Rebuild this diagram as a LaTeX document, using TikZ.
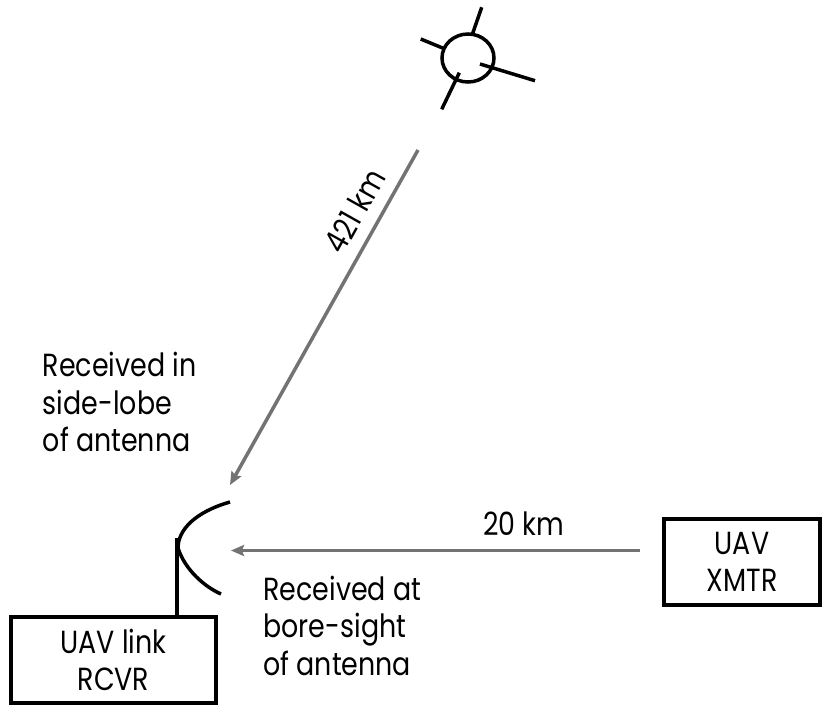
\documentclass[tikz,border=0pt]{standalone}
\usepackage{fontspec}
\setmainfont{Poppins}[FakeStretch=0.84]
\usetikzlibrary{
    arrows.meta,
    calc,
    positioning
}
\definecolor{linkgray}{RGB}{115,115,115}

\begin{document}
\begin{tikzpicture}[x=1pt, y=-1pt,
        txt/.style={font=\fontsize{32}{37.5}\selectfont, inner sep=0pt},
        note/.style={txt, align=left},
        unit/.style={txt, draw, line width=3.5pt, align=center, minimum height=86pt},
        wire/.style={line width=3.5pt},
        link/.style={draw=linkgray, line width=3.5pt, -{Stealth[length=13pt, width=11pt, inset=2pt]}}
    ]
    \useasboundingbox (0, 0) rectangle (829, 713);

    \coordinate (sat) at (468, 58);
    \draw[wire] (sat) ellipse [x radius=26, y radius=24];
    \draw[wire] ($(sat)+(4.7,-24.7)$) -- ($(sat)+(13.7,-50.7)$);
    \draw[wire] ($(sat)+(-47.3,-19)$) -- ($(sat)+(-24.7,-9.7)$);
    \draw[wire] ($(sat)+(12,6)$) -- ($(sat)+(67,22.7)$);
    \draw[wire] ($(sat)+(-8.7,14.7)$) -- ($(sat)+(-26.3,51.3)$);

    \node[unit, minimum width=205pt] (rcvr) at (113.5, 660) {UAV link\\RCVR};
    \node[unit, minimum width=156pt] (xmtr) at (742, 562) {UAV\\XMTR};

    \coordinate (mast) at (177, 538);
    \draw[wire] (mast) -- (mast |- rcvr.north);
    \draw[wire] (230, 502) .. controls (195, 512) and (178, 530) .. (178, 548)
        .. controls (185, 570) and (205, 587) .. (221, 594);

    \coordinate (satlink) at (418, 150);
    \coordinate (sidetip) at (230, 485);
    \coordinate (boretip) at (231, 550.5);
    \draw[link] (satlink) -- (sidetip);
    \draw[link] ([xshift=-22pt]xmtr.west |- boretip) -- (boretip);

    \node[txt, rotate=60.7] (far) at (354.5, 211) {421 km};
    \node[txt, anchor=base west] (near) at (483, 535) {20 km};
    \node[note, anchor=base west] (side) at (42.7, 451.7) {Received in\\side-lobe\\of antenna};
    \node[note, anchor=base west] (bore) at (263.3, 675) {Received at\\bore-sight\\of antenna};
\end{tikzpicture}
\end{document}
